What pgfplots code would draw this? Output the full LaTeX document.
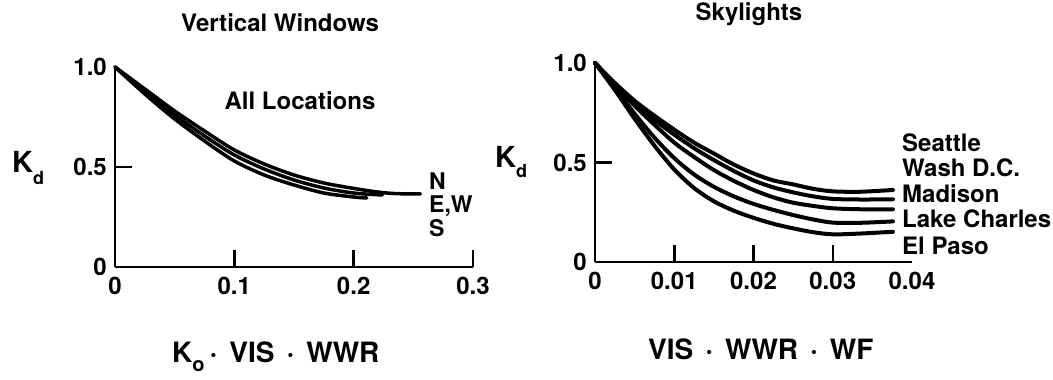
\documentclass[border=0pt]{standalone}
\usepackage{pgfplots}
\pgfplotsset{compat=1.18}
\usepackage{fontspec}
\setmainfont{TeX Gyre Heros}
\newcommand{\fs}[1]{\fontsize{#1}{#1}\selectfont\bfseries}
\begin{document}
\begin{tikzpicture}[x=1pt,y=1pt]
\useasboundingbox (0,0) rectangle (1053,380);
\pgfplotsset{
  every axis/.append style={
    scale only axis, axis x line=bottom, axis y line=left,
    axis line style={-, line width=2.5pt},
    tick style={line width=2.5pt, black},
    tick align=inside, major tick length=17pt,
    ymin=0, ymax=1, clip=false, scaled x ticks=false, scaled y ticks=false,
    ticklabel style={font=\fs{24}},
    yticklabel style={anchor=east, inner sep=0pt, xshift=-8pt},
    xticklabel style={anchor=north, inner sep=0pt, yshift=-10pt},
    ytick={0,0.5}, yticklabels={0,0.5},
    extra y ticks={1}, extra y tick labels={1.0},
    extra y tick style={major tick length=0pt},
    extra x tick style={major tick length=0pt},
  }
}
% ---------- Vertical windows ----------
\begin{axis}[at={(115pt,113pt)}, anchor=south west, width=358pt, height=200pt,
  xmin=0, xmax=0.3, xtick={0,0.1,0.2,0.3}, xticklabels={0,0.1,0.2,0.3}]
\addplot[black, line width=3.5pt, smooth, line cap=round] coordinates {
 (0,1) (0.025,0.89) (0.05,0.78) (0.075,0.68) (0.1,0.585) (0.125,0.515)
 (0.15,0.46) (0.175,0.42) (0.2,0.393) (0.22,0.375) (0.235,0.367) (0.256,0.365)};
\addplot[black, line width=3.5pt, smooth, line cap=round] coordinates {
 (0,1) (0.025,0.875) (0.05,0.76) (0.075,0.655) (0.1,0.56) (0.125,0.49)
 (0.15,0.435) (0.175,0.395) (0.2,0.37) (0.224,0.36)};
\addplot[black, line width=3.5pt, smooth, line cap=round] coordinates {
 (0,1) (0.025,0.865) (0.05,0.74) (0.075,0.63) (0.1,0.53) (0.125,0.46)
 (0.15,0.41) (0.175,0.37) (0.2,0.35) (0.211,0.345)};
\end{axis}
% ---------- Skylights ----------
\begin{axis}[at={(595pt,118pt)}, anchor=south west, width=317pt, height=199pt,
  xmin=0, xmax=0.04, xtick={0,0.01,0.02,0.03}, xticklabels={0,0.01,0.02,0.03},
  extra x ticks={0.04}, extra x tick labels={0.04}]
\addplot[black, line width=4pt, smooth, line cap=round] coordinates {
 (0,1) (0.0025,0.9) (0.005,0.81) (0.0075,0.735) (0.01,0.665) (0.0125,0.6)
 (0.015,0.545) (0.0175,0.49) (0.02,0.445) (0.0225,0.41) (0.025,0.39)
 (0.0275,0.368) (0.03,0.355) (0.0335,0.353) (0.0376,0.362)};
\addplot[black, line width=4pt, smooth, line cap=round] coordinates {
 (0,1) (0.0025,0.895) (0.005,0.8) (0.0075,0.715) (0.01,0.64) (0.0125,0.572)
 (0.015,0.512) (0.0175,0.458) (0.02,0.41) (0.0225,0.375) (0.025,0.35)
 (0.0275,0.33) (0.03,0.317) (0.0335,0.314) (0.0376,0.315)};
\addplot[black, line width=4pt, smooth, line cap=round] coordinates {
 (0,1) (0.0025,0.89) (0.005,0.785) (0.0075,0.69) (0.01,0.6) (0.0125,0.528)
 (0.015,0.462) (0.0175,0.408) (0.02,0.362) (0.0225,0.325) (0.025,0.298)
 (0.0275,0.282) (0.03,0.27) (0.0335,0.265) (0.0376,0.265)};
\addplot[black, line width=4pt, smooth, line cap=round] coordinates {
 (0,1) (0.0025,0.875) (0.005,0.745) (0.0075,0.625) (0.01,0.522) (0.0125,0.44)
 (0.015,0.378) (0.0175,0.33) (0.02,0.292) (0.0225,0.262) (0.025,0.236)
 (0.0275,0.214) (0.03,0.198) (0.0335,0.197) (0.0376,0.204)};
\addplot[black, line width=4pt, smooth, line cap=round] coordinates {
 (0,1) (0.0025,0.865) (0.005,0.72) (0.0075,0.585) (0.01,0.465) (0.0125,0.372)
 (0.015,0.305) (0.0175,0.258) (0.02,0.222) (0.0225,0.192) (0.025,0.169)
 (0.0275,0.15) (0.03,0.139) (0.0335,0.143) (0.0376,0.152)};
\end{axis}
% ---------- texts ----------
\node[anchor=base, font=\fs{24}] at (280,348) {Vertical Windows};
\node[anchor=base, font=\fs{24}] at (749,359) {Skylights};
\node[font=\fs{24}] at (300,279) {All Locations};
\node[anchor=base west, inner sep=0pt, font=\fs{23}] at (429,190) {N};
\node[anchor=base west, inner sep=0pt, font=\fs{23}] at (429,167) {E,W};
\node[anchor=base west, inner sep=0pt, font=\fs{23}] at (429,143) {S};
\node[anchor=base west, inner sep=0pt, font=\fs{24}] at (902,228) {Seattle};
\node[anchor=base west, inner sep=0pt, font=\fs{24}] at (902,203) {Wash D.C.};
\node[anchor=base west, inner sep=0pt, font=\fs{24}] at (902,177) {Madison};
\node[anchor=base west, inner sep=0pt, font=\fs{24}] at (902,152) {Lake Charles};
\node[anchor=base west, inner sep=0pt, font=\fs{24}] at (902,125) {El Paso};
\node[anchor=base west, inner sep=0pt, font=\fs{29}] at (12,207) {K\raisebox{-12pt}{\fs{18}d}};
\node[anchor=base west, inner sep=0pt, font=\fs{29}] at (495,212) {K\raisebox{-10pt}{\fs{18}d}};
\node[anchor=base west, inner sep=0pt, font=\fs{28}] at (172,17)
  {K\raisebox{-9pt}{\fs{20}o}\hspace{5pt}·\hspace{12pt}VIS\hspace{12pt}·\hspace{12pt}WWR};
\node[anchor=base west, inner sep=0pt, font=\fs{28}] at (648,20)
  {VIS\hspace{12pt}·\hspace{12pt}WWR\hspace{12pt}·\hspace{12pt}WF};
\end{tikzpicture}
\end{document}
